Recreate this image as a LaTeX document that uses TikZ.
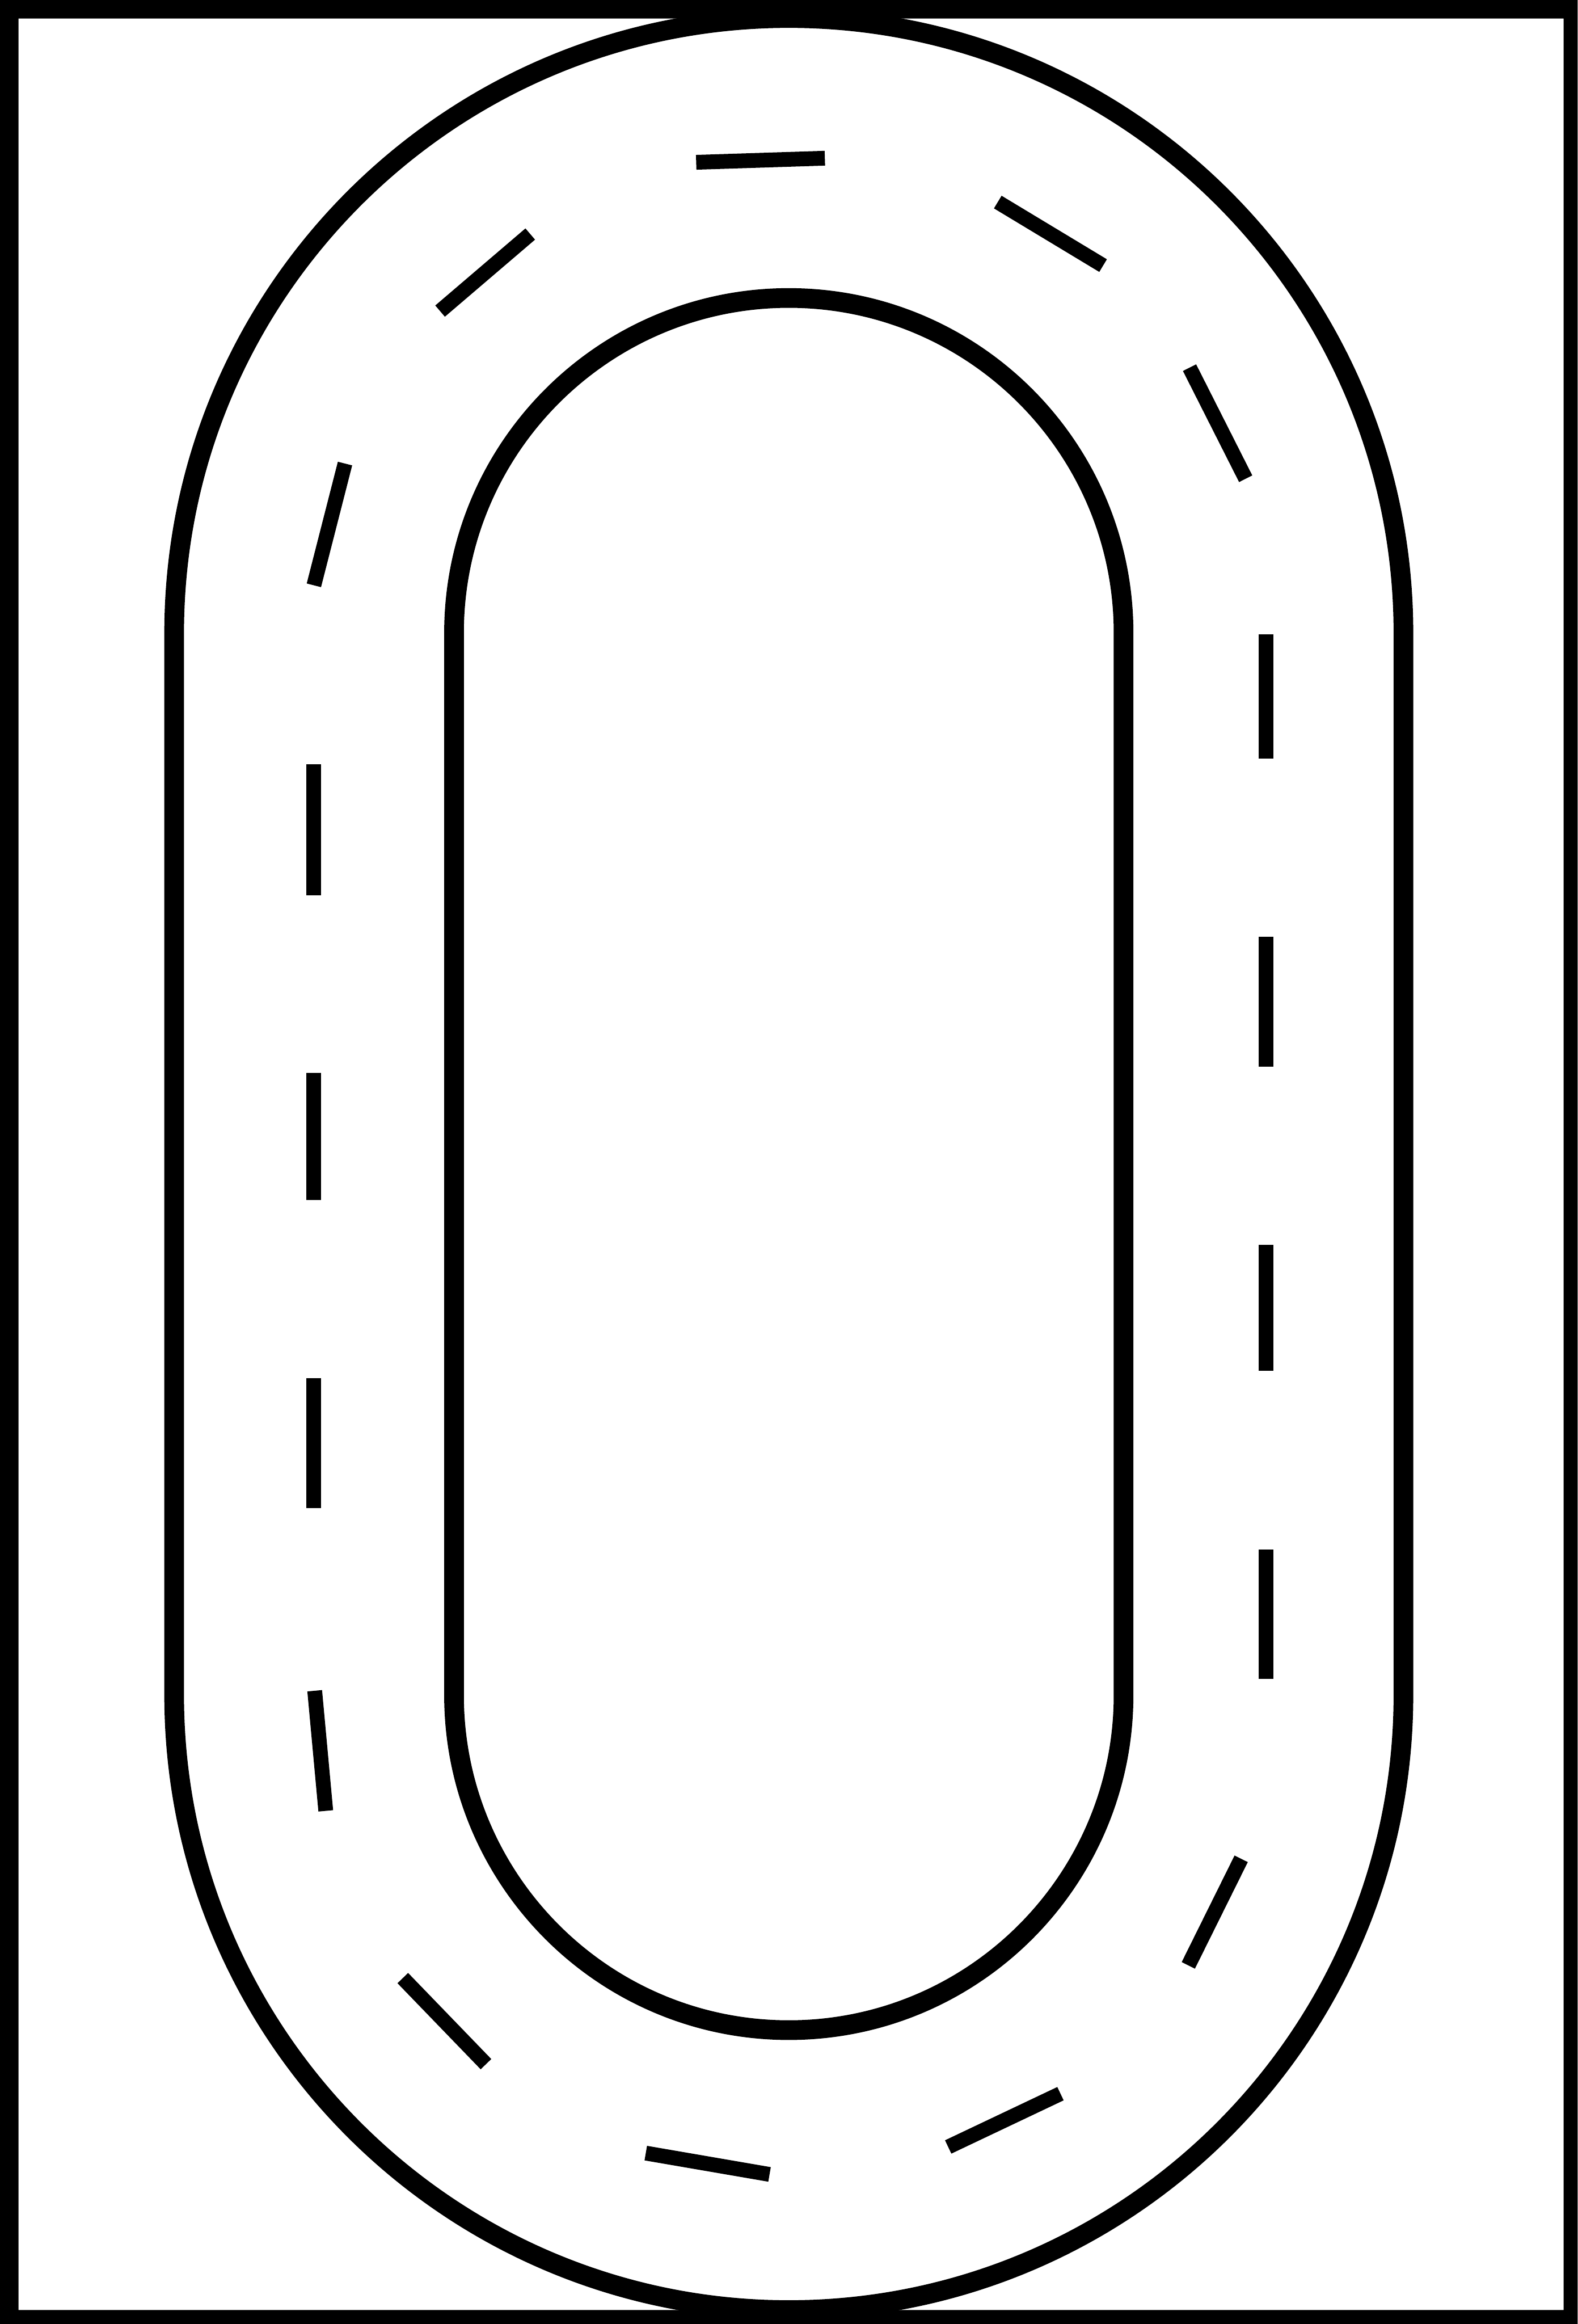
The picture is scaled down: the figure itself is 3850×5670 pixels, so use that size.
\documentclass[tikz,border=0pt]{standalone}
\begin{document}
\begin{tikzpicture}[x=0.01cm,y=-0.01cm,
  trackline/.style={draw=black,line width=0.48cm},
  lanemark/.style={draw=black,line width=0.36cm,line cap=butt}]
\useasboundingbox (0,0) rectangle (3850,5670);
% frame
\fill[black,even odd rule] (0,0) rectangle (3850,5670) (45,45) rectangle (3816,5636);
% outer and inner edges of the track
\draw[trackline,rounded corners=15cm] (425,44) rectangle (3425,5636);
\draw[trackline,rounded corners=8.17cm] (1108,727) rectangle (2742,4953);
% centre line, left straight
\draw[lanemark] (766,1865) -- (766,2185);
\draw[lanemark] (766,2617) -- (766,2928);
\draw[lanemark] (766,3362) -- (766,3680);
% centre line, right straight
\draw[lanemark] (3089,1547) -- (3089,1851);
\draw[lanemark] (3089,2285) -- (3089,2603);
\draw[lanemark] (3089,3037) -- (3089,3344);
\draw[lanemark] (3089,3781) -- (3089,4096);
% top bend
\draw[lanemark] (766,1428) -- (842,1131);
\draw[lanemark] (1074,759) -- (1294,571);
\draw[lanemark] (1699,396) -- (2013,386);
\draw[lanemark] (2435,493) -- (2692,648);
\draw[lanemark] (2903,897) -- (3040,1168);
% bottom bend
\draw[lanemark] (768,4125) -- (795,4418);
\draw[lanemark] (983,4826) -- (1186,5036);
\draw[lanemark] (1576,5253) -- (1878,5305);
\draw[lanemark] (2314,5238) -- (2588,5108);
\draw[lanemark] (2900,4795) -- (3029,4535);
\end{tikzpicture}
\end{document}
